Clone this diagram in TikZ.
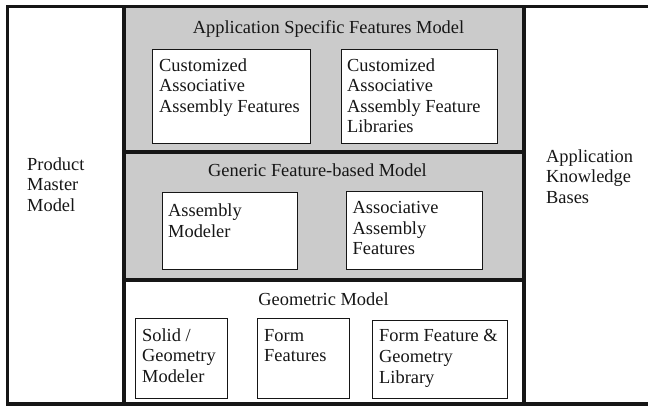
\documentclass[tikz,border=0pt]{standalone}
\usepackage{fontspec}
\setmainfont{Liberation Serif}
\definecolor{panelgray}{RGB}{203,203,203}
\definecolor{ink}{RGB}{22,22,22}
\tikzset{
  frame/.style={draw=ink, line width=3.6pt},
  box/.style={draw=ink, line width=1.3pt, fill=white, inner sep=0pt, anchor=north west},
  % multi-line labels are placed by the baseline of their last line
  txt/.style={font=\fontsize{18.4}{20.6}\selectfont, inner sep=0pt, align=left, anchor=base west, text=ink},
  title/.style={font=\fontsize{18.4}{20.6}\selectfont, inner sep=0pt, anchor=base, text=ink}
}
\begin{document}
\begin{tikzpicture}[x=1pt, y=-1pt]
  \useasboundingbox (0,0) rectangle (648,408);
  \clip (0,0) rectangle (648,408);

  % shaded feature layers
  \fill[panelgray] (124,6.5) rectangle (524,280);

  % outer frame (open to the right)
  \draw[frame] (660,6.5) -- (7.5,6.5) -- (7.5,404) -- (660,404);

  % central column and its layer dividers
  \draw[frame] (124,6.5) -- (124,404);
  \draw[frame] (524,6.5) -- (524,404);
  \draw[frame] (124,152) -- (524,152);
  \draw[frame] (124,280) -- (524,280);

  % side labels
  \node[txt] (pmm) at (27,211.2) {Product\\Master\\Model};
  \node[txt] (akb) at (546,203.2) {Application\\Knowledge\\Bases};

  % layer titles
  \node[title] (asf) at (328.5,33) {Application Specific Features Model};
  \node[title] (gfm) at (317.5,176.5) {Generic Feature-based Model};
  \node[title] (geo) at (323.5,305) {Geometric Model};

  % application specific layer
  \node[box, minimum width=158pt, minimum height=94pt] (b1) at (152,49) {};
  \node[txt] (t1) at (159,112.2) {Customized\\Associative\\Assembly Features};
  \node[box, minimum width=156pt, minimum height=94pt] (b2) at (341,49) {};
  \node[txt] (t2) at (347,132.8) {Customized\\Associative\\Assembly Feature\\Libraries};

  % generic feature-based layer
  \node[box, minimum width=135pt, minimum height=77pt] (b3) at (162,192) {};
  \node[txt] (t3) at (168,237.1) {Assembly\\Modeler};
  \node[box, minimum width=136pt, minimum height=78pt] (b4) at (346,191) {};
  \node[txt] (t4) at (352.5,254.7) {Associative\\Assembly\\Features};

  % geometric layer
  \node[box, minimum width=92pt, minimum height=80pt] (b5) at (135,318) {};
  \node[txt] (t5) at (142,382.2) {Solid /\\Geometry\\Modeler};
  \node[box, minimum width=92pt, minimum height=80pt] (b6) at (257,318) {};
  \node[txt] (t6) at (264,361.6) {Form\\Features};
  \node[box, minimum width=135pt, minimum height=77.5pt] (b7) at (372,320) {};
  \node[txt] (t7) at (379,383) {Form Feature \&\\Geometry\\Library};
\end{tikzpicture}
\end{document}
